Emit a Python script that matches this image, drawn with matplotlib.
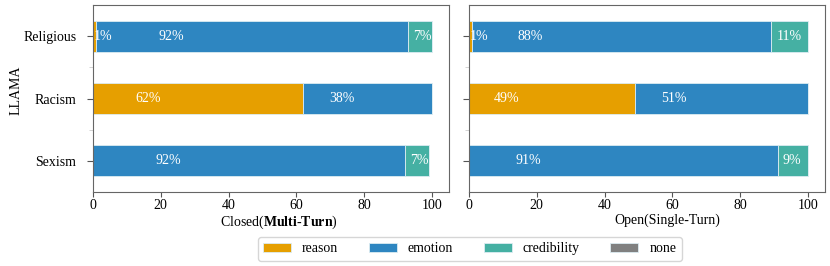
import matplotlib
matplotlib.use("Agg")
import matplotlib.pyplot as plt
import numpy as np

plt.rcParams['font.family'] = ['Liberation Serif', 'DejaVu Serif']
plt.rcParams['mathtext.fontset'] = 'custom'
plt.rcParams['mathtext.rm'] = 'Liberation Serif'
plt.rcParams['mathtext.bf'] = 'Liberation Serif:bold'
plt.rcParams['font.size'] = 10

categories = ["Sexism", "Racism", "Religious"]
series = ["reason", "emotion", "credibility", "none"]
colors = ["#E69F00", "#2E86C1", "#45B0A3", "#808080"]

closed_reason = [0, 62, 1]
closed_emotion = [92, 38, 92]
closed_credibility = [7, 0, 7]
closed_none = [0, 0, 0]

open_reason = [0, 49, 1]
open_emotion = [91, 51, 88]
open_credibility = [9, 0, 11]
open_none = [0, 0, 0]

xticks = [0, 20, 40, 60, 80, 100]

fig = plt.figure(figsize=(8.3, 2.66), dpi=100)
ax1 = fig.add_axes([0.112, 0.278, 0.429, 0.703])
ax2 = fig.add_axes([0.565, 0.278, 0.429, 0.703])

panels = [
    (ax1, [closed_reason, closed_emotion, closed_credibility, closed_none], 0.2),
    (ax2, [open_reason, open_emotion, open_credibility, open_none], 0.15),
]

y = np.arange(len(categories))
for ax, data, k in panels:
    left = np.zeros(len(categories))
    for name, vals, col in zip(series, data, colors):
        vals = np.array(vals, dtype=float)
        ax.barh(y, vals, left=left, height=0.5, color=col, label=name,
                edgecolor="#dcecf2", linewidth=0.6)
        for yi, (l, v) in enumerate(zip(left, vals)):
            if v > 0:
                ax.text(l + k * v, yi, f"{int(v)}%", color="white", ha="left",
                        va="center", fontsize=10)
        left = left + vals
    ax.set_ylim(-0.5, len(categories) - 0.5)
    ax.set_xlim(0, 105)
    ax.set_xticks(xticks)
    ax.set_yticks(y)
    ax.set_yticks([0.5, 1.5], minor=True)
    ax.tick_params(axis='y', which='minor', length=3, color="#cccccc")
    ax.tick_params(axis='y', which='major', length=4, pad=8, color="#555555")
    ax.tick_params(axis='x', which='major', length=3.5, pad=1.5, color="#555555")
    for s in ax.spines.values():
        s.set_color("#666666")

ax1.set_yticklabels(categories)
ax2.set_yticklabels([])
ax1.set_ylabel("LLAMA", fontsize=10)
ax1.yaxis.set_label_coords(-0.197, 0.545)

ax1.set_xlabel(r"Closed($\mathbf{Multi}$-$\mathbf{Turn}$)")
ax2.set_xlabel("Open(Single-Turn)")
ax1.xaxis.set_label_coords(0.522, -0.113)
ax2.xaxis.set_label_coords(0.556, -0.113)

handles, labels = ax1.get_legend_handles_labels()
fig.legend(handles, labels, loc="center", bbox_to_anchor=(0.566, 0.064),
           ncol=4, frameon=True, fontsize=10, handlelength=2.0,
           columnspacing=2.2, edgecolor="#cccccc")

fig.savefig("out.png", dpi=100)
